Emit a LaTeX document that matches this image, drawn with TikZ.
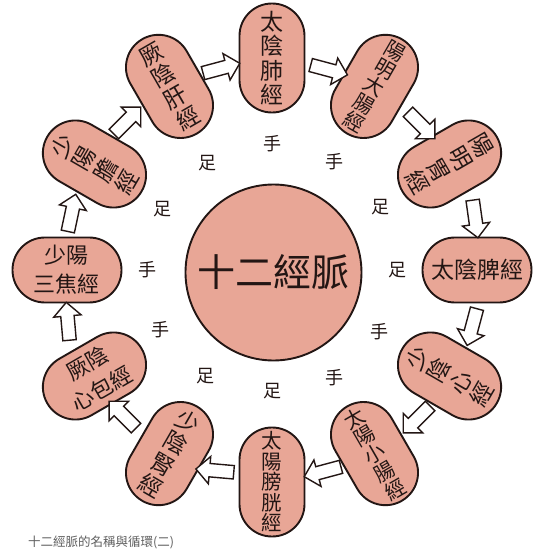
\documentclass[tikz,border=0pt]{standalone}
\usepackage{fontspec}
\newfontfamily\cjk{Noto Sans CJK TC}
\usetikzlibrary{shapes.arrows}
\definecolor{pinkfill}{RGB}{232,166,150}
\definecolor{ink}{RGB}{35,22,20}
\definecolor{capgray}{RGB}{95,95,95}
\begin{document}
\begin{tikzpicture}[x=1pt,y=1pt,
  vcap/.style={draw=ink, fill=pinkfill, line width=1.9pt, rectangle, rounded corners=32.4pt,
    minimum width=65pt, minimum height=109pt, inner sep=0pt, align=center, text=ink,
    font=\cjk\fontsize{23}{24.5}\selectfont},
  vcapf/.style={vcap, font=\cjk\fontsize{20.5}{20.5}\selectfont},
  hcap/.style={vcap, minimum width=109pt, minimum height=65pt},
  hcaptwo/.style={hcap, font=\cjk\fontsize{22}{29}\selectfont},
  blockarrow/.style={single arrow, draw=ink, fill=white, line width=1.4pt,
    minimum height=38pt, single arrow head extend=7pt, inner xsep=0pt, inner ysep=6pt},
  lab/.style={font=\cjk\fontsize{18}{18}\selectfont, inner sep=0pt, text=ink},
]
\useasboundingbox[fill=white] (-272,-279) rectangle (277,270);

% centre
\node[circle, draw=ink, fill=pinkfill, line width=1.9pt, minimum size=176pt, inner sep=0pt,
  font=\cjk\fontsize{38}{38}\selectfont, text=ink] (c) at (1.5,-2.5) {十二經脈};

% twelve meridians
\node[vcap,  rotate=0]   (n1)  at (90:205pt and 212pt)   {太\\陰\\肺\\經};
\node[vcapf, rotate=-30] (n2)  at (60:205pt and 212pt)   {陽\\明\\大\\腸\\經};
\node[vcap,  rotate=-60] (n3)  at (30:205pt and 212pt)   {陽\\明\\胃\\經};
\node[hcap,  rotate=0]   (n4)  at (0:205pt and 212pt)    {太陰脾經};
\node[vcap,  rotate=60]  (n5)  at (-30:205pt and 212pt)  {少\\陰\\心\\經};
\node[vcapf, rotate=30]  (n6)  at (-60:205pt and 212pt)  {太\\陽\\小\\腸\\經};
\node[vcapf, rotate=0]   (n7)  at (-90:205pt and 212pt)  {太\\陽\\膀\\胱\\經};
\node[vcap,  rotate=-30] (n8)  at (-120:205pt and 212pt) {少\\陰\\腎\\經};
\node[hcaptwo, rotate=30] (n9) at (-150:205pt and 212pt) {厥陰\\心包經};
\node[hcaptwo, rotate=0] (n10) at (180:205pt and 212pt)  {少陽\\三焦經};
\node[vcap,  rotate=60]  (n11) at (150:205pt and 212pt)  {少\\陽\\膽\\經};
\node[vcap,  rotate=30]  (n12) at (120:205pt and 212pt)  {厥\\陰\\肝\\經};

% arrows (clockwise flow)
\node[blockarrow, rotate=15]   (a1)  at (105:208) {};
\node[blockarrow, rotate=-15]  (a2)  at (75:208)  {};
\node[blockarrow, rotate=-45]  (a3)  at (45:208)  {};
\node[blockarrow, rotate=-82]  (a4)  at (15:210)  {};
\node[blockarrow, rotate=-105] (a5)  at (-15:208) {};
\node[blockarrow, rotate=-135] (a6)  at (-45:208) {};
\node[blockarrow, rotate=-165] (a7)  at (-75:208) {};
\node[blockarrow, rotate=175]  (a8)  at (-105:208) {};
\node[blockarrow, rotate=135]  (a9)  at (-135:208) {};
\node[blockarrow, rotate=95]   (a10) at (-165:211) {};
\node[blockarrow, rotate=78]   (a11) at (165:208) {};
\node[blockarrow, rotate=45]   (a12) at (135:208) {};

% hand / foot labels
\node[lab] (l1)  at (90:126)   {手};
\node[lab] (l2)  at (60:125)   {手};
\node[lab] (l3)  at (30:125)   {足};
\node[lab] (l4)  at (0:125)    {足};
\node[lab] (l5)  at (-30:124)  {手};
\node[lab] (l6)  at (-60:124)  {手};
\node[lab] (l7)  at (-90:121)  {足};
\node[lab] (l8)  at (-122:125) {足};
\node[lab] (l9)  at (-152:126) {手};
\node[lab] (l10) at (180:124)  {手};
\node[lab] (l11) at (151:125)  {足};
\node[lab] (l12) at (121:125)  {足};

% caption
\node[anchor=west, inner sep=0pt, text=capgray, font=\cjk\fontsize{12.5}{13}\selectfont]
  (cap) at (-244,-272) {十二經脈的名稱與循環(二)};
\end{tikzpicture}
\end{document}
